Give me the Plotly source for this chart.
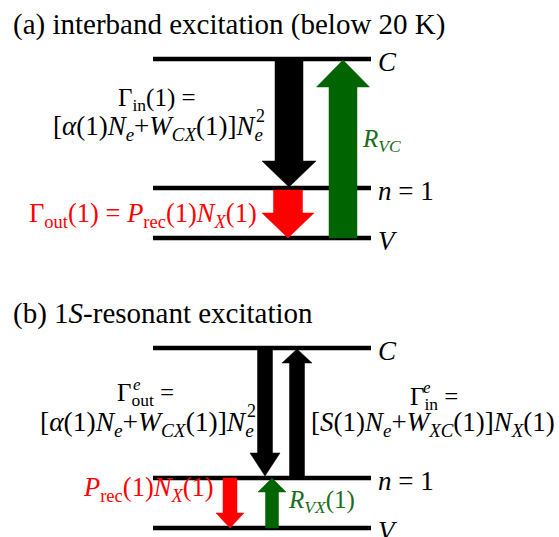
import plotly.graph_objects as go

# ---- diagram data ----
level_names = ["<i>C</i>", "<i>n</i> = 1", "<i>V</i>"]
level_y_a = [59, 188, 238]
level_y_b = [348, 478, 528]
level_x = [153, 371]

# arrows: centre x, tail y, tip y, shaft half width, head half width, head length, colour
arrow_xc = [289, 288, 343, 265, 297, 230, 272]
arrow_y0 = [59, 190, 238, 348, 478, 478, 528]
arrow_y1 = [187, 238, 60, 476, 349, 528, 478]
arrow_s = [14, 14.5, 14, 7.5, 7.5, 7, 6.5]
arrow_h = [27, 26, 26.5, 15, 15, 14, 14]
arrow_L = [26, 25, 27, 23, 14, 15, 14]
arrow_col = ["#000000", "#ff0000", "#006400", "#000000", "#000000", "#ff0000", "#006400"]

RED = "#ff0000"
GREEN = "#1a6e1a"
FONT = "Liberation Serif, Times New Roman, Times, serif"

fig = go.Figure()

# energy levels
for ys in (level_y_a, level_y_b):
    for y in ys:
        fig.add_trace(go.Scatter(x=level_x, y=[y, y], mode="lines",
                                 line=dict(color="black", width=4.5),
                                 hoverinfo="skip"))

# arrows
for xc, y0, y1, s, h, L, c in zip(arrow_xc, arrow_y0, arrow_y1, arrow_s, arrow_h, arrow_L, arrow_col):
    d = 1 if y1 > y0 else -1
    yb = y1 - d * L
    xs = [xc - s, xc - s, xc - h, xc, xc + h, xc + s, xc + s, xc - s]
    ys = [y0, yb, yb, y1, yb, yb, y0, y0]
    fig.add_trace(go.Scatter(x=xs, y=ys, mode="lines", fill="toself",
                             fillcolor=c, line=dict(color=c, width=0.5),
                             hoverinfo="skip"))

ann = []
def A(text, x, y, size, xanchor="center", color="black", yanchor="middle"):
    ann.append(dict(text=text, x=x, y=y, xref="x", yref="y", showarrow=False,
                    xanchor=xanchor, yanchor=yanchor,
                    font=dict(family=FONT, size=size, color=color)))

# titles
A("(a) interband excitation (below 20 K)", 11, 24, 29, "left")
A("(b) 1<i>S</i>-resonant excitation", 11, 313, 29, "left")

# level labels
for ys in (level_y_a, level_y_b):
    for name, y in zip(level_names, ys):
        A(name, 376, y + 3, 27, "left")

eq_bracket = "[<i>α</i>(1)<i>N</i><sub><i>e</i></sub>+<i>W</i><sub><i>CX</i></sub>(1)]<i>N</i><sub><i>e</i></sub>"

# panel (a) equations
A("Γ<sub>in</sub>(1) =", 157, 99, 25)
A(eq_bracket, 265, 128, 27, "right")
A("2", 267, 116, 18, "right")
A("Γ<sub>out</sub>(1) = <i>P</i><sub>rec</sub>(1)<i>N</i><sub><i>X</i></sub>(1)", 27, 215, 26.5, "left", RED)
A("<i>R</i><sub><i>VC</i></sub>", 360, 140, 25, "left", GREEN)

# panel (b) equations
A("Γ<sub>out</sub> =", 145, 394, 25)
A("<i>e</i>", 137, 384, 17)
A(eq_bracket, 256, 423, 27.5, "right")
A("2", 258, 411, 18, "right")
A("Γ<sub>in</sub> =", 434, 398, 25)
A("<i>e</i>", 427, 387, 17)
A("[<i>S</i>(1)<i>N</i><sub><i>e</i></sub>+<i>W</i><sub><i>XC</i></sub>(1)]<i>N</i><sub><i>X</i></sub>(1)", 433, 424, 27, "center")
A("<i>P</i><sub>rec</sub>(1)<i>N</i><sub><i>X</i></sub>(1)", 81, 489, 26.5, "left", RED)
A("<i>R</i><sub><i>VX</i></sub>(1)", 286, 501, 25, "left", GREEN)

fig.update_layout(
    width=559, height=537, margin=dict(l=0, r=0, t=0, b=0),
    paper_bgcolor="white", plot_bgcolor="white", showlegend=False,
    xaxis=dict(range=[0, 559], visible=False, fixedrange=True),
    yaxis=dict(range=[537, 0], visible=False, fixedrange=True),
    annotations=ann,
)

fig.write_html("out.html", config={"displayModeBar": False})
